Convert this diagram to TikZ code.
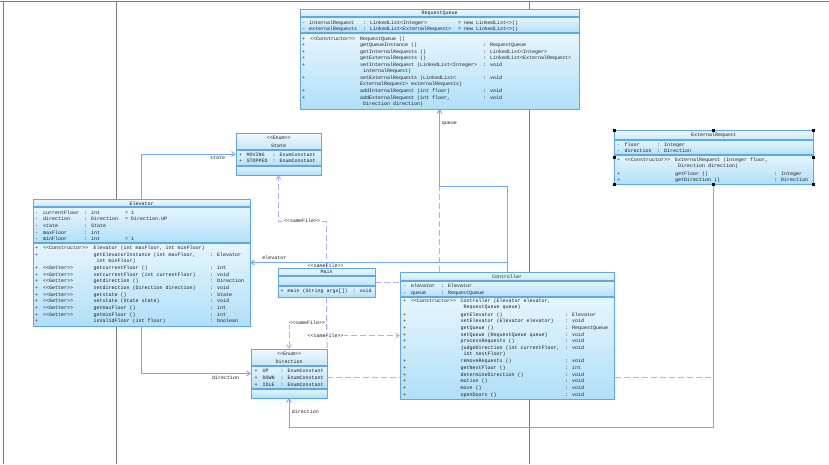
\documentclass[tikz,border=0pt]{standalone}
\usepackage{fontspec}
\newfontfamily\umlfont{Liberation Mono}
\usetikzlibrary{arrows.meta,calc}
\definecolor{bord}{RGB}{95,168,232}
\definecolor{ctop}{RGB}{230,245,253}
\definecolor{cbot}{RGB}{176,223,248}
\definecolor{ttop}{RGB}{238,248,254}
\definecolor{tbot}{RGB}{198,231,250}
\definecolor{assoc}{RGB}{115,168,250}
\definecolor{dep}{RGB}{182,172,250}
\definecolor{pageline}{RGB}{125,125,125}
\definecolor{txt}{RGB}{30,30,30}
\newcommand\umlsize{\umlfont\fontsize{5}{6}\selectfont}
\newcommand\stereo[1]{<\kern0pt<#1>\kern0pt>}
\newcounter{rowc}
\newcommand\setcols[4]{\def\cA{#1}\def\wA{#2}\def\wB{#3}\def\wC{#4}}
\newcommand\crow[5]{\stepcounter{rowc}\node[rowtxt] (row\arabic{rowc}) at (\cA,{#1+1.8}) {\makebox[\wA pt][l]{#2}\makebox[\wB pt][l]{#3}\makebox[\wC pt][l]{#4}#5};}
\newcommand\umlclass[6]{%
 \shade[top color=ttop,bottom color=tbot] (#1,#2) rectangle (#3,#5);
 \shade[top color=ctop,bottom color=cbot] (#1,#5) rectangle (#3,#6);
 \shade[top color=ctop,bottom color=cbot] (#1,#6) rectangle (#3,#4);
 \draw[sepline] (#1,#5) -- (#3,#5);
 \draw[sepline] (#1,#6) -- (#3,#6);
 \draw[bord, line width=0.8pt] (#1,#2) rectangle (#3,#4);}
\tikzset{
 rowtxt/.style={anchor=base west, inner sep=0pt, font=\umlsize, text=txt},
 ttl/.style={anchor=base, inner sep=0pt, font=\umlsize, text=txt},
 lbl/.style={inner sep=0.6pt, font=\umlsize, text=txt},
 boxnode/.style={inner sep=0pt, rectangle},
 sepline/.style={draw=bord, line width=1.1pt},
 assocline/.style={draw=assoc, line width=0.9pt, -{Straight Barb[length=3.5pt,width=5pt]}},
 depline/.style={draw=dep, line width=0.9pt, dash pattern=on 6pt off 3pt},
 deparrow/.style={depline, -{Straight Barb[length=3.5pt,width=5pt]}},
}
\begin{document}
\begin{tikzpicture}[x=1pt,y=-1pt]
\useasboundingbox (0,0) rectangle (829,464);
\fill[white] (0,0) rectangle (829,464);
% page lines
\draw[pageline, line width=0.5pt] (0,1) -- (829,1);
\draw[pageline, line width=0.5pt] (3.5,1) -- (3.5,464);
\draw[pageline, line width=0.5pt] (116,1) -- (116,464);
\draw[pageline, line width=0.5pt] (529,1) -- (529,464);
% invisible class nodes
\node[boxnode, minimum width=279pt, minimum height=100pt] (rq) at (439.5,59) {};
\node[boxnode, minimum width=85pt, minimum height=42pt] (st) at (278.5,154) {};
\node[boxnode, minimum width=199pt, minimum height=54pt] (er) at (713.5,157) {};
\node[boxnode, minimum width=217pt, minimum height=127pt] (el) at (141.5,262.5) {};
\node[boxnode, minimum width=97pt, minimum height=29pt] (mn) at (326.5,282.5) {};
\node[boxnode, minimum width=214pt, minimum height=127pt] (ct) at (507,335.5) {};
\node[boxnode, minimum width=76pt, minimum height=49pt] (dr) at (289,373.5) {};
\coordinate (qy) at (0,186);
\coordinate (lowy) at (0,427);
\coordinate (sfy) at (0,221);
\coordinate (sdy) at (0,323);
\coordinate (dy) at (0,377);
% dependencies
\draw[depline] (dr.east |- dy) -- (er.south |- dy);
\draw[depline] (ct.north -| rq.south) -- (rq.south |- qy);
\draw[deparrow] (mn.north) -- (mn.north |- sfy) -| (st.south);
\draw[depline] (mn.east) -- (mn.east -| ct.west);
\draw[depline] (mn.south) -- (dr.north east);
\draw[deparrow] (mn.south) -- (mn.south |- sdy) -| (dr.north);
\draw[deparrow] (mn.south) |- (ct.west);
% associations
\draw[assocline] (el.north) |- (st.west);
\draw[assocline] (ct.north) |- (el.east);
\draw[assocline] (ct.north) -- (ct.north |- qy) -| (rq.south);
\draw[assocline] (el.south) |- (dr.west);
\draw[assocline] (er.south) -- (er.south |- lowy) -| (dr.south);
% labels
\node[lbl, anchor=base east] (lstate) at (226,159.8) {state};
\node[lbl, anchor=base west] (lqueue) at (441,124.5) {queue};
\node[lbl, anchor=base west] (lelev) at (261.5,259.8) {elevator};
\node[lbl, anchor=base east] (ldirA) at (240,379.6) {direction};
\node[lbl, anchor=base west] (ldirB) at (291,413) {direction};
\node[lbl, fill=white] (lsA) at (302,221) {\stereo{sameFile}};
\node[lbl] (lsB) at (325.5,265.5) {\stereo{sameFile}};
\node[lbl, fill=white] (lsC) at (307,323) {\stereo{sameFile}};
\node[lbl, fill=white] (lsD) at (325.5,335.5) {\stereo{sameFile}};
% boxes
\umlclass{300}{9}{579}{109}{17}{33}
\umlclass{236}{133}{321}{175}{150}{166}
\umlclass{614}{130}{813}{184}{140}{155}
\umlclass{33}{199}{250}{326}{207}{243}
\umlclass{278}{268}{375}{297}{276}{286}
\umlclass{400}{272}{614}{399}{281}{297}
\umlclass{251}{349}{327}{398}{366}{389}
% RequestQueue
\node[ttl] (rqt) at (439.5,14.8) {RequestQueue};
\setcols{302}{7}{54}{95}
\crow{22.3}{-}{internalRequest}{: LinkedList<Integer>}{= new LinkedList<>()}
\crow{29}{-}{externalRequests}{: LinkedList<ExternalRequest>}{= new LinkedList<>()}
\setcols{302}{8}{50}{123}
\crow{38.3}{+}{\stereo{Constructor}}{RequestQueue ()}{}
\crow{44.7}{+}{}{getQueueInstance ()}{: RequestQueue}
\crow{51.3}{+}{}{getInternalRequests ()}{: LinkedList<Integer>}
\crow{58}{+}{}{getExternalRequests ()}{: LinkedList<ExternalRequest>}
\crow{64.7}{+}{}{setInternalRequest (LinkedList<Integer>}{: void}
\crow{70.7}{}{}{\ internalRequest)}{}
\crow{78}{+}{}{setExternalRequests (LinkedList<}{: void}
\crow{84}{}{}{ExternalRequest> externalRequests)}{}
\crow{91}{+}{}{addInternalRequest (int floor)}{: void}
\crow{97.7}{+}{}{addExternalRequest (int floor,}{: void}
\crow{103.7}{}{}{\ Direction direction)}{}
% State
\node[ttl] (sttA) at (278.5,139.8) {\stereo{Enum}};
\node[ttl] (sttB) at (278.5,147.8) {State};
\setcols{239}{7.5}{26}{0}
\crow{154.3}{+}{MOVING}{: EnumConstant}{}
\crow{161}{+}{STOPPED}{: EnumConstant}{}
% ExternalRequest
\node[ttl] (ert) at (713.5,136.8) {ExternalRequest};
\setcols{617}{7.5}{32.5}{0}
\crow{144.3}{-}{floor}{: Integer}{}
\crow{150.7}{-}{direction}{: Direction}{}
\setcols{617}{8}{50}{99}
\crow{160}{+}{\stereo{Constructor}}{ExternalRequest (Integer floor,}{}
\crow{165.7}{}{}{\ Direction direction)}{}
\crow{173.3}{+}{}{getFloor ()}{: Integer}
\crow{180}{+}{}{getDirection ()}{: Direction}
\foreach \hx/\hy in {614/130,713.5/130,813/130,614/157,813/157,614/184,713.5/184,813/184}
  \fill[black] ({\hx-1.5},{\hy-1.5}) rectangle ({\hx+1.5},{\hy+1.5});
% Elevator
\node[ttl] (elt) at (141.5,205.1) {Elevator};
\setcols{35}{8}{41}{41}
\crow{212.3}{-}{currentFloor}{: int}{= 1}
\crow{219}{-}{direction}{: Direction}{= Direction.UP}
\crow{225.7}{-}{state}{: State}{}
\crow{232.3}{-}{maxFloor}{: int}{}
\crow{239}{-}{minFloor}{: int}{= 1}
\setcols{35}{8}{50.5}{116.5}
\crow{247.7}{+}{\stereo{Constructor}}{Elevator (int maxFloor, int minFloor)}{}
\crow{254.3}{+}{}{getElevatorInstance (int maxFloor,}{: Elevator}
\crow{260.3}{}{}{\ int minFloor)}{}
\crow{267.7}{+}{\stereo{Getter}}{getcurrentFloor ()}{: int}
\crow{274.3}{+}{\stereo{Getter}}{setcurrentFloor (int currentFloor)}{: void}
\crow{281}{+}{\stereo{Getter}}{getdirection ()}{: Direction}
\crow{287.7}{+}{\stereo{Getter}}{setdirection (Direction direction)}{: void}
\crow{294.3}{+}{\stereo{Getter}}{getstate ()}{: State}
\crow{301}{+}{\stereo{Getter}}{setstate (State state)}{: void}
\crow{307.7}{+}{\stereo{Getter}}{getmaxFloor ()}{: int}
\crow{314.3}{+}{\stereo{Getter}}{getminFloor ()}{: int}
\crow{321}{+}{}{isValidFloor (int floor)}{: boolean}
% Main
\node[ttl] (mnt) at (326.5,273.8) {Main};
\setcols{280.5}{7}{65}{0}
\crow{290.5}{+}{main (String args[])}{: void}{}
% Controller
\node[ttl] (ctt) at (507,278.5) {Controller};
\setcols{403}{8}{30}{0}
\crow{285.7}{-}{elevator}{: Elevator}{}
\crow{292.3}{-}{queue}{: RequestQueue}{}
\setcols{403}{8}{49.5}{104.5}
\crow{301}{+}{\stereo{Constructor}}{Controller (Elevator elevator,}{}
\crow{307}{}{}{\ RequestQueue queue)}{}
\crow{314.3}{+}{}{getElevator ()}{: Elevator}
\crow{321}{+}{}{setElevator (Elevator elevator)}{: void}
\crow{327.7}{+}{}{getQueue ()}{: RequestQueue}
\crow{334.3}{+}{}{setQueue (RequestQueue queue)}{: void}
\crow{341}{+}{}{processRequests ()}{: void}
\crow{347.7}{+}{}{judgeDirection (int currentFloor,}{: void}
\crow{353.7}{}{}{\ int nextFloor)}{}
\crow{361}{+}{}{removeRequests ()}{: void}
\crow{367.7}{+}{}{getNextFloor ()}{: int}
\crow{374.3}{+}{}{determineDirection ()}{: void}
\crow{381}{+}{}{motion ()}{: void}
\crow{387.7}{+}{}{move ()}{: void}
\crow{394.3}{+}{}{openDoors ()}{: void}
% Direction
\node[ttl] (drtA) at (289,355.8) {\stereo{Enum}};
\node[ttl] (drtB) at (289,363.8) {Direction};
\setcols{254.5}{8}{18}{0}
\crow{371}{+}{UP}{: EnumConstant}{}
\crow{377.7}{+}{DOWN}{: EnumConstant}{}
\crow{384.3}{+}{IDLE}{: EnumConstant}{}
\end{tikzpicture}
\end{document}
